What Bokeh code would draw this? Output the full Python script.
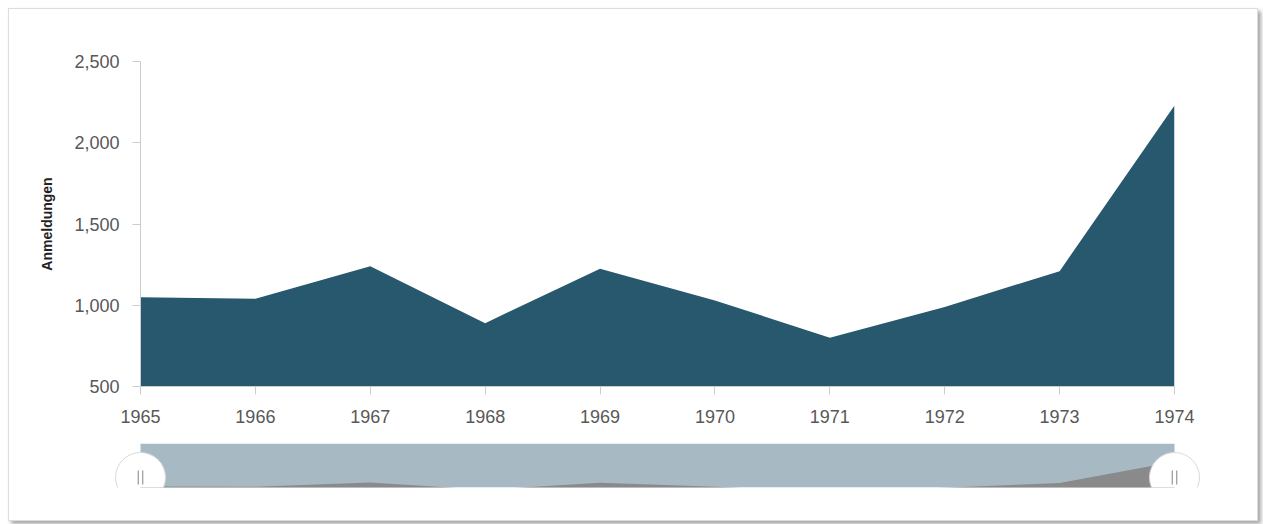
from bokeh.plotting import figure
from bokeh.models import Range1d, FixedTicker, NumeralTickFormatter, ColumnDataSource
from bokeh.layouts import column
from bokeh.embed import file_html
from bokeh.resources import INLINE
import math

# ---- data ----
years = [1965, 1966, 1967, 1968, 1969, 1970, 1971, 1972, 1973, 1974]
values = [1050, 1040, 1240, 890, 1225, 1030, 800, 990, 1210, 2230]
y_ticks = [500, 1000, 1500, 2000, 2500]
y_label = "Anmeldungen"

AREA = "#27586d"
NAV_BG = "#a7b9c3"
NAV_SERIES = "#8a8a8a"
TXT = "#585858"
FONT = "Liberation Sans"

src = ColumnDataSource(dict(x=years, y=values))

W = 1248

# ---- main chart ----
p = figure(width=W, height=421, output_backend="svg", toolbar_location=None,
           x_range=Range1d(years[0], years[-1]), y_range=Range1d(y_ticks[0], y_ticks[-1]),
           min_border_left=131, min_border_right=83, min_border_top=52, min_border_bottom=44)
p.frame_align = False
p.outline_line_color = None
p.grid.visible = False
p.background_fill_color = "white"
p.border_fill_color = "white"

p.varea(x="x", y1=0, y2="y", source=src, fill_color=AREA)

xa = p.xaxis[0]
xa.ticker = FixedTicker(ticks=years)
xa.minor_tick_line_color = None
xa.major_tick_out = 8
xa.major_tick_in = 0
xa.major_tick_line_color = "#cccccc"
xa.axis_line_color = "#cccccc"
xa.major_label_text_font = FONT
xa.major_label_text_font_size = "18px"
xa.major_label_text_color = TXT
xa.major_label_standoff = 15

ya = p.yaxis[0]
ya.ticker = FixedTicker(ticks=y_ticks)
ya.formatter = NumeralTickFormatter(format="0,0")
ya.minor_tick_line_color = None
ya.major_tick_out = 8
ya.major_tick_in = 0
ya.major_tick_line_color = "#cccccc"
ya.axis_line_color = "#cccccc"
ya.major_label_text_font = FONT
ya.major_label_text_font_size = "18px"
ya.major_label_text_color = TXT
ya.major_label_standoff = 13
ya.axis_label = y_label
ya.axis_label_text_font = FONT
ya.axis_label_text_font_style = "bold"
ya.axis_label_text_font_size = "14px"
ya.axis_label_text_color = "#222222"
ya.axis_label_standoff = 16

# ---- navigator ----
px_per_year = 1034 / (years[-1] - years[0])
pad = 35 / px_per_year
nav = figure(width=W, height=90, output_backend="svg", toolbar_location=None,
             x_range=Range1d(years[0] - pad, years[-1] + pad), y_range=Range1d(0, 44),
             min_border_left=96, min_border_right=48, min_border_top=13, min_border_bottom=33)
nav.frame_align = False
nav.outline_line_color = None
nav.grid.visible = False
nav.axis.visible = False
nav.border_fill_color = "white"
nav.background_fill_color = "white"
nav.extra_y_ranges = {"nav": Range1d(1000, 3100)}

nav.quad(left=years[0], right=years[-1], bottom=0, top=44, fill_color=NAV_BG, line_color=None)
nav.varea(x="x", y1=0, y2="y", source=src, fill_color=NAV_SERIES, y_range_name="nav")

hx = [years[0], years[-1]]
nav.scatter(x=hx, y=[10, 10], size=50, marker="circle", fill_color="white",
            line_color="#d8d8d8", line_width=1)
d = 2.2 / px_per_year
bars_x = [hx[0] - d, hx[0] + d, hx[1] - d, hx[1] + d]
nav.scatter(x=bars_x, y=[10, 10, 10, 10], size=14, marker="dash", angle=math.pi / 2,
            line_color="#a0a0a0", line_width=1.3)

layout = column(p, nav, styles={"border": "1px solid #dddddd",
                                "box-shadow": "3px 3px 4px rgba(0,0,0,0.35)",
                                "background": "white",
                                "margin": "8px 0 0 8px"})

open("out.html", "w").write(file_html(layout, INLINE))
